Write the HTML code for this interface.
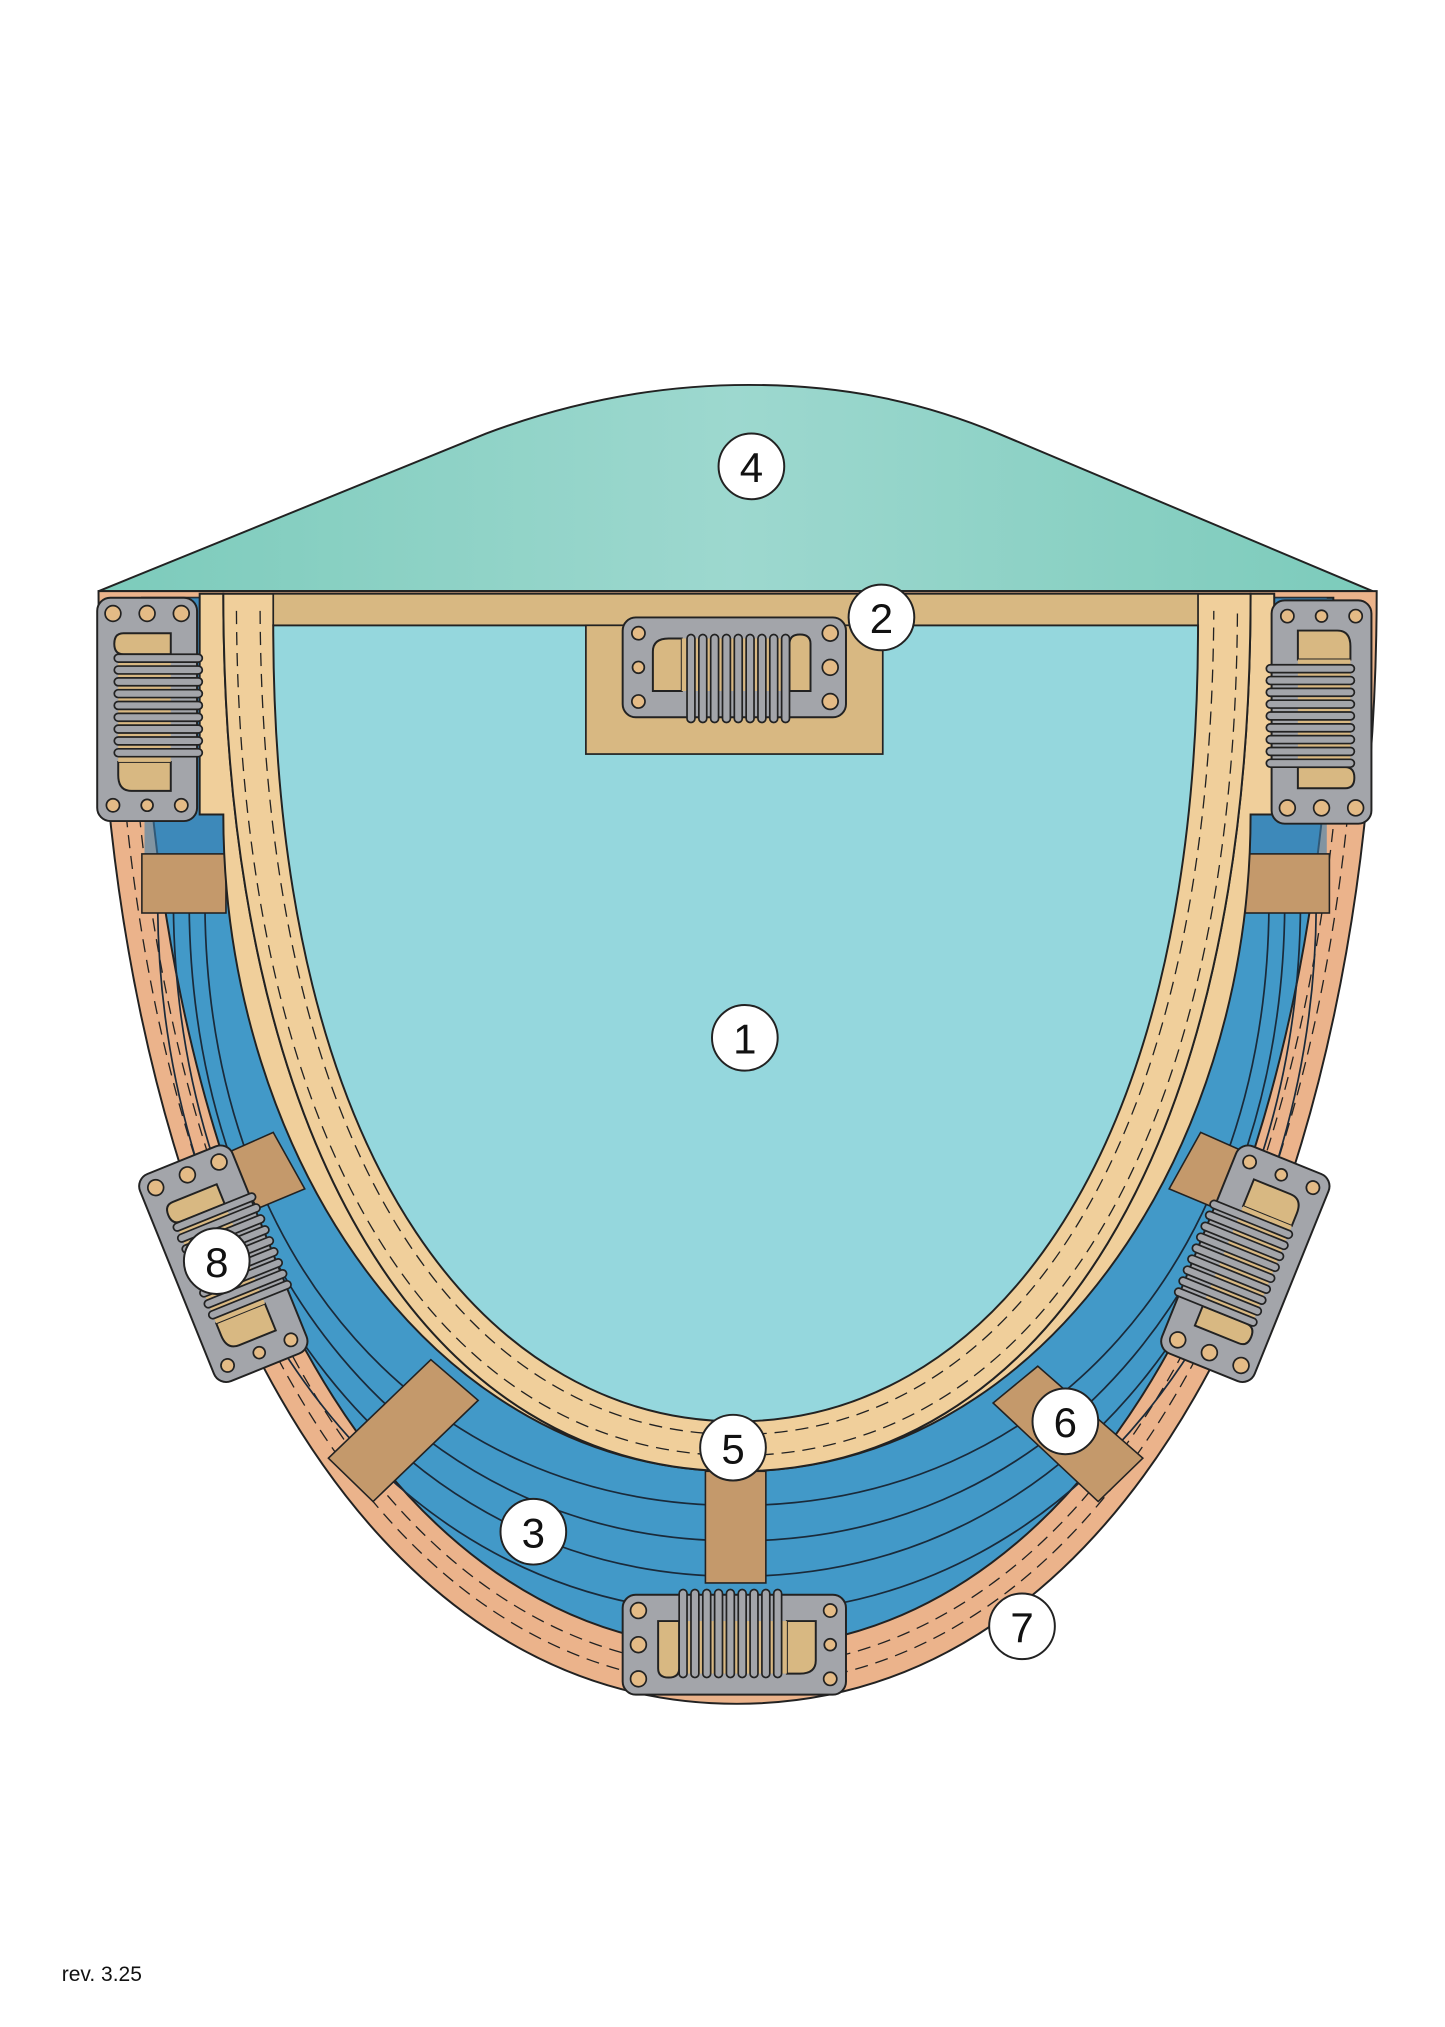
<!DOCTYPE html>
<html><head><meta charset="utf-8"><style>
html,body{margin:0;padding:0;background:#fff;width:1445px;height:2027px;overflow:hidden}
svg{display:block}
text{font-family:"Liberation Sans",sans-serif}
</style></head><body>
<svg width="1445" height="2027" viewBox="0 0 1100 1543" xmlns="http://www.w3.org/2000/svg">
<defs>
<linearGradient id="g" x1="0" x2="1" y1="0" y2="0">
<stop offset="0" stop-color="#7ccbbb"/><stop offset="0.5" stop-color="#9dd8cf"/><stop offset="1" stop-color="#7ccbbb"/>
</linearGradient>
<g id="clip">
<rect x="-85" y="-38" width="170" height="76" rx="10" fill="#a3a5aa" stroke="#222" stroke-width="1.5"/>
<path d="M-62,-12 Q-62,-22 -50,-22 L-40,-22 L-40,18 L-62,18 Z" fill="#d8b882" stroke="#222" stroke-width="1.5"/>
<path d="M42,18 L42,-18 Q42,-25 50,-25 Q58,-25 58,-18 L58,18 Z" fill="#d8b882" stroke="#222" stroke-width="1.5"/>
<rect x="-40" y="-22" width="82" height="40" fill="#d8b882"/>
<g fill="#a3a5aa" stroke="#222" stroke-width="1.3">
<rect x="-36" y="-25" width="6" height="67" rx="3"/><rect x="-27" y="-25" width="6" height="67" rx="3"/><rect x="-18" y="-25" width="6" height="67" rx="3"/><rect x="-9" y="-25" width="6" height="67" rx="3"/><rect x="0" y="-25" width="6" height="67" rx="3"/><rect x="9" y="-25" width="6" height="67" rx="3"/><rect x="18" y="-25" width="6" height="67" rx="3"/><rect x="27" y="-25" width="6" height="67" rx="3"/><rect x="36" y="-25" width="6" height="67" rx="3"/>
</g>
<g fill="#e4bb86" stroke="#222" stroke-width="1.3">
<circle cx="-73" cy="-26" r="5"/><circle cx="-73" cy="0" r="4.5"/><circle cx="-73" cy="26" r="5"/>
<circle cx="73" cy="-26" r="6"/><circle cx="73" cy="0" r="6"/><circle cx="73" cy="26" r="6"/>
</g>
</g>
</defs>

<!-- top green -->
<path d="M75,450 L370,330 C450,300 520,293 570,293 C640,293 700,305 760,330 L1045,450 Z" fill="url(#g)" stroke="#222" stroke-width="1.5"/>

<!-- orange outer -->
<path d="M75,450 C75,900 250,1297 561,1297 C872,1297 1048,900 1048,450 Z" fill="#ebb38b" stroke="#222" stroke-width="1.5"/>
<path d="M88,460 C88,890 258,1283 561,1283 C864,1283 1034,890 1034,460" fill="none" stroke="#222" stroke-width="1" stroke-dasharray="10,6"/>
<path d="M98,460 C98,885 265,1270 561,1270 C857,1270 1024,885 1024,460" fill="none" stroke="#222" stroke-width="1" stroke-dasharray="10,6"/>

<!-- blue band -->
<path d="M108,455 C108,880 270,1255 561,1255 C852,1255 1015,880 1015,455 Z" fill="#4299c8" stroke="#222" stroke-width="1.5"/>
<g fill="none" stroke="#1a2a3a" stroke-width="1.3">
<path d="M120,690 C122,960 285,1228 561,1228 C837,1228 1000,960 1002,690"/>
<path d="M132,690 C134,960 298,1200 561,1200 C824,1200 988,960 990,690"/>
<path d="M144,690 C146,960 311,1173 561,1173 C811,1173 976,960 978,690"/>
<path d="M156,690 C158,960 324,1146 561,1146 C798,1146 964,960 966,690"/>
</g>
<rect x="110" y="455" width="60" height="195" fill="#3a7fb0" opacity="0.6"/>
<rect x="950" y="455" width="60" height="195" fill="#3a7fb0" opacity="0.6"/>

<!-- straps -->
<g fill="#c4996b" stroke="#222" stroke-width="1.2">
<rect x="108" y="650" width="64" height="45"/>
<rect x="948" y="650" width="64" height="45"/>
<rect x="537" y="1120" width="46" height="85"/>
<polygon points="250,1110 284,1143 364,1066 328,1035"/>
<polygon points="756,1068 790,1040 870,1110 836,1143"/>
<polygon points="172,878 208,862 232,905 196,920"/>
<polygon points="890,905 914,862 950,878 926,920"/>
</g>

<!-- beige band -->
<path d="M152,452 L170,452 C170,880 330,1120 561,1120 C792,1120 952,880 952,452 L970,452 L970,620 L952,620 C952,880 792,1120 561,1120 C330,1120 170,880 170,620 L152,620 Z" fill="#f0cf9b" stroke="#222" stroke-width="1.5"/>
<path d="M170,452 C170,880 330,1120 561,1120 C792,1120 952,880 952,452 Z" fill="#f0cf9b" stroke="#222" stroke-width="1.5"/>
<path d="M180,465 C182,880 338,1108 561,1108 C784,1108 940,880 942,465" fill="none" stroke="#222" stroke-width="1" stroke-dasharray="10,6"/>
<path d="M198,465 C200,880 355,1092 561,1092 C767,1092 922,880 924,465" fill="none" stroke="#222" stroke-width="1" stroke-dasharray="10,6"/>

<!-- inner -->
<path d="M208,476 C208,900 380,1082 561,1082 C742,1082 912,900 912,476 Z" fill="#95d7dd" stroke="#222" stroke-width="1.5"/>
<rect x="208" y="452" width="704" height="24" fill="#d8b882" stroke="#222" stroke-width="1.3"/>
<rect x="446" y="476" width="226" height="98" fill="#d8b882" stroke="#222" stroke-width="1.3"/>

<!-- clips -->
<use href="#clip" transform="translate(559,508)"/>
<use href="#clip" transform="translate(559,1252) rotate(180)"/>
<use href="#clip" transform="translate(112,540) rotate(-90)"/>
<use href="#clip" transform="translate(1006,542) rotate(90)"/>
<use href="#clip" transform="translate(170,962) rotate(-112)"/>
<use href="#clip" transform="translate(948,962) rotate(112)"/>

<!-- labels -->
<g fill="#fff" stroke="#222" stroke-width="1.5">
<circle cx="572" cy="355" r="25"/><circle cx="671" cy="470" r="25"/><circle cx="567" cy="790" r="25"/>
<circle cx="165" cy="960" r="25"/><circle cx="558" cy="1102" r="25"/><circle cx="811" cy="1082" r="25"/>
<circle cx="406" cy="1166" r="25"/><circle cx="778" cy="1238" r="25"/>
</g>
<g font-size="32" text-anchor="middle" fill="#111">
<text x="572" y="367">4</text><text x="671" y="482">2</text><text x="567" y="802">1</text>
<text x="165" y="972">8</text><text x="558" y="1114">5</text><text x="811" y="1094">6</text>
<text x="406" y="1178">3</text><text x="778" y="1250">7</text>
</g>
<text x="47" y="1508" font-size="16" fill="#111">rev. 3.25</text>
</svg>
</body></html>
